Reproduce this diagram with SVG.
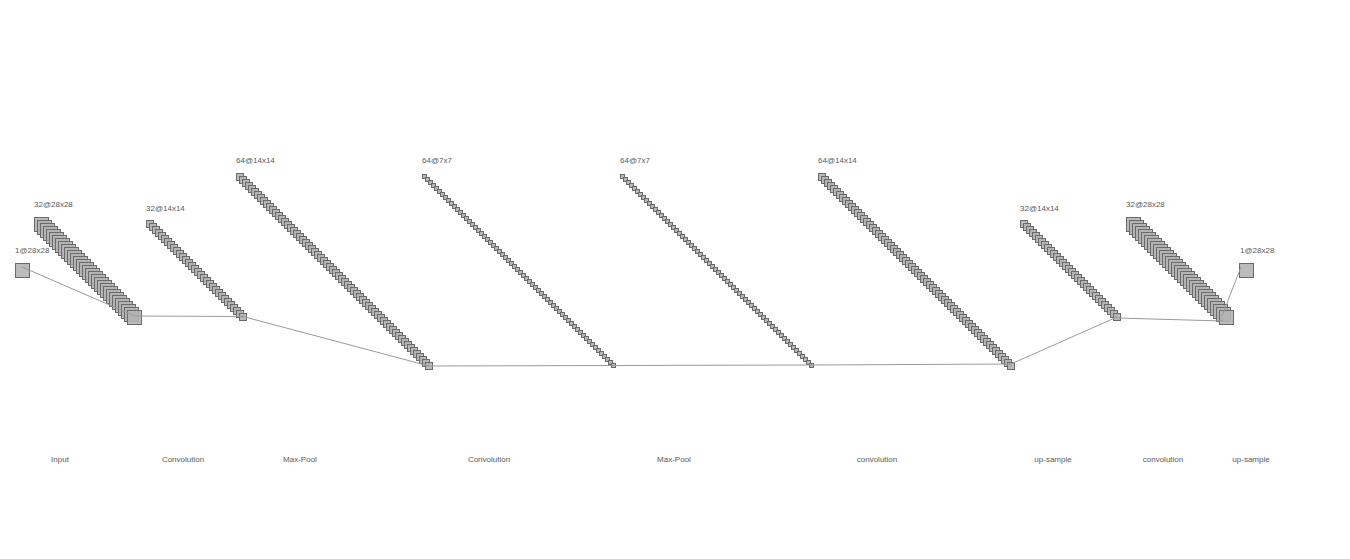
<svg xmlns="http://www.w3.org/2000/svg" xmlns:xlink="http://www.w3.org/1999/xlink" width="1350" height="559" viewBox="0 0 1350 559">
<style>
.fm{fill:#b4b4b4;stroke:#6a6a6a;stroke-width:1;fill-opacity:0.9}
.fs{fill:#b8b8b8;stroke:#6a6a6a;stroke-width:1}
.lbl{font-family:"Liberation Sans",Arial,sans-serif;font-size:8px;fill:#5a5a5a}
.cap{font-family:"Liberation Sans",Arial,sans-serif;font-size:8px;fill:#5a5a5a;text-anchor:middle}
.conn line{stroke:#9a9a9a;stroke-width:1}
</style>
<defs>
<g id="b1"><rect class="fm" x="0" y="0" width="14" height="14"/></g>
<g id="b2"><use href="#b1"/><use href="#b1" x="3" y="3"/></g>
<g id="b4"><use href="#b2"/><use href="#b2" x="6" y="6"/></g>
<g id="b8"><use href="#b4"/><use href="#b4" x="12" y="12"/></g>
<g id="b16"><use href="#b8"/><use href="#b8" x="24" y="24"/></g>
<g id="b32"><use href="#b16"/><use href="#b16" x="48" y="48"/></g>
<g id="m1"><rect class="fm" x="0" y="0" width="7" height="7"/></g>
<g id="m2"><use href="#m1"/><use href="#m1" x="3" y="3"/></g>
<g id="m4"><use href="#m2"/><use href="#m2" x="6" y="6"/></g>
<g id="m8"><use href="#m4"/><use href="#m4" x="12" y="12"/></g>
<g id="m16"><use href="#m8"/><use href="#m8" x="24" y="24"/></g>
<g id="m32"><use href="#m16"/><use href="#m16" x="48" y="48"/></g>
<g id="m64"><use href="#m32"/><use href="#m32" x="96" y="96"/></g>
<g id="s1"><rect class="fs" x="0" y="0" width="4" height="4"/></g>
<g id="s2"><use href="#s1"/><use href="#s1" x="3" y="3"/></g>
<g id="s4"><use href="#s2"/><use href="#s2" x="6" y="6"/></g>
<g id="s8"><use href="#s4"/><use href="#s4" x="12" y="12"/></g>
<g id="s16"><use href="#s8"/><use href="#s8" x="24" y="24"/></g>
<g id="s32"><use href="#s16"/><use href="#s16" x="48" y="48"/></g>
<g id="s64"><use href="#s32"/><use href="#s32" x="96" y="96"/></g>
</defs>
<rect width="1350" height="559" fill="#fff"/>

<g id="input">
<use href="#b1" x="15.5" y="263.5"/>
<text class="lbl" x="15" y="253">1@28x28</text>
</g>
<g id="conv1">
<use href="#b32" x="34.5" y="217.5"/>
<text class="lbl" x="34" y="207">32@28x28</text>
</g>
<g id="pool1">
<use href="#m32" x="146.5" y="220.5"/>
<text class="lbl" x="146" y="211">32@14x14</text>
</g>
<g id="conv2">
<use href="#m64" x="236.5" y="173.5"/>
<text class="lbl" x="236" y="163">64@14x14</text>
</g>
<g id="pool2">
<use href="#s64" x="422.5" y="174.5"/>
<text class="lbl" x="422" y="163">64@7x7</text>
</g>
<g id="conv3">
<use href="#s64" x="620.5" y="174.5"/>
<text class="lbl" x="620" y="163">64@7x7</text>
</g>
<g id="up1">
<use href="#m64" x="818.5" y="173.5"/>
<text class="lbl" x="818" y="163">64@14x14</text>
</g>
<g id="conv4">
<use href="#m32" x="1020.5" y="220.5"/>
<text class="lbl" x="1020" y="211">32@14x14</text>
</g>
<g id="up2">
<use href="#b32" x="1126.5" y="217.5"/>
<text class="lbl" x="1126" y="207">32@28x28</text>
</g>
<g id="output">
<use href="#b1" x="1239.5" y="263.5"/>
<text class="lbl" x="1240" y="253">1@28x28</text>
</g>

<g id="connectors" class="conn">
<line x1="22" y1="267" x2="135" y2="316"/>
<line x1="135" y1="316" x2="243" y2="316.5"/>
<line x1="243" y1="316.5" x2="429" y2="366"/>
<line x1="429" y1="366" x2="614" y2="365.5"/>
<line x1="614" y1="365.5" x2="811" y2="365"/>
<line x1="811" y1="365" x2="1011" y2="364"/>
<line x1="1011" y1="364" x2="1117" y2="317"/>
<line x1="1117" y1="318" x2="1223" y2="321"/>
<line x1="1241" y1="267" x2="1222" y2="316"/>
</g>

<g id="captions">
<text class="cap" x="60" y="462">Input</text>
<text class="cap" x="183" y="462">Convolution</text>
<text class="cap" x="300" y="462">Max-Pool</text>
<text class="cap" x="489" y="462">Convolution</text>
<text class="cap" x="674" y="462">Max-Pool</text>
<text class="cap" x="877" y="462">convolution</text>
<text class="cap" x="1053" y="462">up-sample</text>
<text class="cap" x="1163" y="462">convolution</text>
<text class="cap" x="1251" y="462">up-sample</text>
</g>
</svg>
